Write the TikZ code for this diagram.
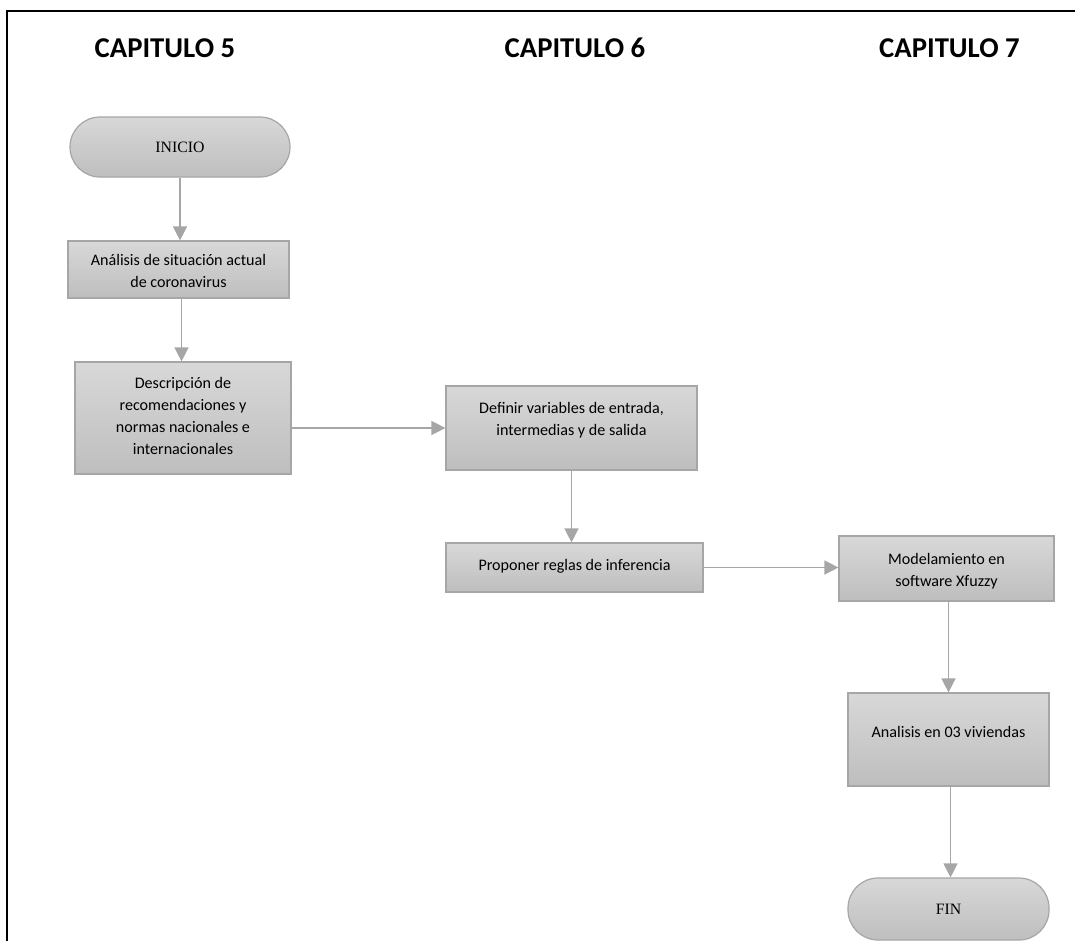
\documentclass[tikz,border=0pt]{standalone}
\usepackage{fontspec}
\setmainfont{Carlito}
\newfontfamily\serifface{Liberation Serif}
\usetikzlibrary{arrows.meta}
\definecolor{boxtop}{HTML}{D8D8D8}
\definecolor{boxbot}{HTML}{BEBEBE}
\definecolor{edge}{HTML}{A6A6A6}
\tikzset{
  x=1pt, y=-1pt,
  procbox/.style={draw=edge, line width=1.2pt, top color=boxtop, bottom color=boxbot, rectangle, inner sep=0pt},
  termbox/.style={procbox, rounded corners=30pt, font=\serifface\fontsize{15.8}{18}\selectfont},
  boxtext/.style={align=center, font=\fontsize{16.1}{22}\selectfont, inner sep=0pt},
  heading/.style={font=\bfseries\fontsize{28.7}{32}\selectfont, inner sep=0pt},
  flow/.style={draw=edge, line width=1.4pt, -{Triangle[length=14pt,width=14pt,fill=edge]}},
}
\begin{document}
\begin{tikzpicture}
\useasboundingbox (0,0) rectangle (1075,940);
\clip (0,0) rectangle (1075,940);
\fill[white] (0,0) rectangle (1075,940);
\draw[line width=2.4pt] (7,941) -- (7,11) -- (1076,11);

\node[heading] (h5) at (165,48) {CAPITULO 5};
\node[heading] (h6) at (575,48) {CAPITULO 6};
\node[heading] (h7) at (949.5,48) {CAPITULO 7};

\node[termbox, minimum width=220pt, minimum height=60pt] (inicio) at (180,147) {INICIO};

\node[procbox, minimum width=221pt, minimum height=57pt] (b1) at (178.5,269.5) {};
\node[boxtext] (t1) at (178.5,271) {Análisis de situación actual\\de coronavirus};

\node[procbox, minimum width=216pt, minimum height=112pt] (b2) at (183,418) {};
\node[boxtext] (t2) at (183,416) {Descripción de\\recomendaciones y\\normas nacionales e\\internacionales};

\node[procbox, minimum width=251pt, minimum height=84pt] (b3) at (571.5,428) {};
\node[boxtext] (t3) at (571.5,420) {Definir variables de entrada,\\intermedias y de salida};

\node[procbox, minimum width=257pt, minimum height=49pt] (b4) at (574.5,567.5) {};
\node[boxtext] (t4) at (574.5,566) {Proponer reglas de inferencia};

\node[procbox, minimum width=215pt, minimum height=65pt] (b5) at (946.5,568.5) {};
\node[boxtext] (t5) at (946.5,571) {Modelamiento en\\software Xfuzzy};

\node[procbox, minimum width=201pt, minimum height=93pt] (b6) at (948.5,739.5) {};
\node[boxtext] (t6) at (948.5,732) {Analisis en 03 viviendas};

\node[termbox, minimum width=201pt, minimum height=62pt] (fin) at (948.5,909) {FIN};

\draw[flow] (inicio.south) -- (b1.north -| inicio.south);
\draw[flow] (b1.south) ++(3,0) coordinate (c1) -- (c1 |- b2.north);
\draw[flow] (b2.east |- b3) -- (b3.west);
\draw[flow] (b3.south) -- (b3.south |- b4.north);
\draw[flow] (b4.east) -- (b4.east -| b5.west);
\draw[flow] (b5.south) ++(2,0) coordinate (c5) -- (c5 |- b6.north);
\draw[flow] (b6.south) ++(2,0) coordinate (c6) -- (c6 |- fin.north);
\end{tikzpicture}
\end{document}
